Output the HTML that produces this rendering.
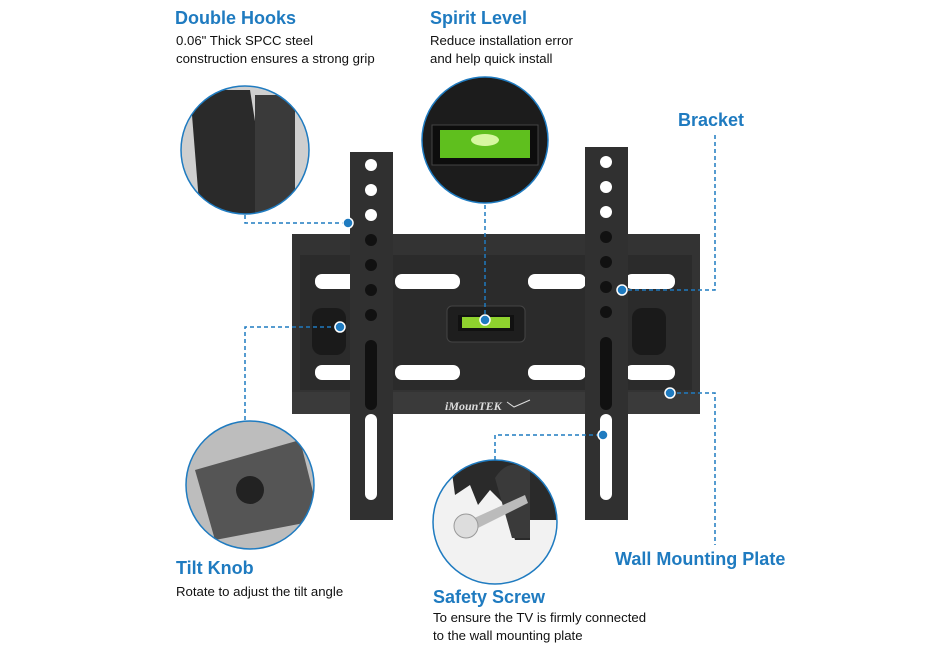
<!DOCTYPE html>
<html><head><meta charset="utf-8"><style>
body{margin:0;background:#fff;}
.c{position:absolute;font-family:"Liberation Sans",Arial,sans-serif;}
.h{color:#1f7bc0;font-weight:bold;font-size:18px;}
.s{color:#111;font-size:13.2px;line-height:18px;}
</style></head><body>
<div style="position:relative;width:950px;height:650px;overflow:hidden">
<svg width="950" height="650" style="position:absolute;left:0;top:0">
<defs>
<clipPath id="c1"><circle cx="245" cy="150" r="64"/></clipPath>
<clipPath id="c3"><circle cx="250" cy="485" r="64"/></clipPath>
<clipPath id="c4"><circle cx="495" cy="522" r="62"/></clipPath>
</defs>
<rect x="292" y="234" width="408" height="180" fill="#333"/>
<rect x="300" y="255" width="392" height="135" fill="#2b2b2b"/>
<rect x="292" y="392" width="408" height="22" fill="#3a3a3a"/>
<g fill="#fff">
<rect x="315" y="274" width="55" height="15" rx="7"/><rect x="395" y="274" width="65" height="15" rx="7"/>
<rect x="528" y="274" width="58" height="15" rx="7"/><rect x="625" y="274" width="50" height="15" rx="7"/>
<rect x="315" y="365" width="55" height="15" rx="7"/><rect x="395" y="365" width="65" height="15" rx="7"/>
<rect x="528" y="365" width="58" height="15" rx="7"/><rect x="625" y="365" width="50" height="15" rx="7"/>
</g>
<rect x="447" y="306" width="78" height="36" rx="5" fill="#1e1e1e" stroke="#444"/>
<rect x="458" y="315" width="56" height="16" fill="#111"/>
<rect x="462" y="317" width="48" height="11" fill="#8fd22e"/>
<text x="445" y="410" fill="#ddd" font-family="Liberation Serif" font-style="italic" font-weight="bold" font-size="12">iMounTEK</text>
<path d="M507 402 L514 407 L530 400" stroke="#ddd" fill="none" stroke-width="1"/>
<rect x="312" y="308" width="34" height="47" rx="10" fill="#1a1a1a"/>
<rect x="632" y="308" width="34" height="47" rx="10" fill="#1a1a1a"/>
<rect x="350" y="152" width="43" height="368" fill="#303030"/>
<rect x="585" y="147" width="43" height="373" fill="#303030"/>
<g fill="#fff">
<circle cx="371" cy="165" r="6"/><circle cx="371" cy="190" r="6"/><circle cx="371" cy="215" r="6"/>
<circle cx="606" cy="162" r="6"/><circle cx="606" cy="187" r="6"/><circle cx="606" cy="212" r="6"/>
<rect x="365" y="414" width="12" height="86" rx="6"/><rect x="600" y="414" width="12" height="86" rx="6"/>
</g>
<g fill="#111">
<circle cx="371" cy="240" r="6"/><circle cx="371" cy="265" r="6"/><circle cx="371" cy="290" r="6"/><circle cx="371" cy="315" r="6"/>
<rect x="365" y="340" width="12" height="70" rx="6"/>
<circle cx="606" cy="237" r="6"/><circle cx="606" cy="262" r="6"/><circle cx="606" cy="287" r="6"/><circle cx="606" cy="312" r="6"/>
<rect x="600" y="337" width="12" height="73" rx="6"/>
</g>
<g clip-path="url(#c1)"><rect x="180" y="85" width="130" height="130" fill="#cfcfcf"/><path d="M190 90 L250 90 L270 215 L200 215Z" fill="#2a2a2a"/><rect x="255" y="95" width="40" height="120" fill="#3a3a3a"/></g>
<circle cx="245" cy="150" r="64" fill="none" stroke="#1f7bc0" stroke-width="1.5"/>
<circle cx="485" cy="140" r="63" fill="#1c1c1c" stroke="#1f7bc0" stroke-width="1.5"/>
<rect x="432" y="125" width="106" height="40" fill="#0d0d0d" stroke="#444"/>
<rect x="440" y="130" width="90" height="28" fill="#5fbf1e"/>
<ellipse cx="485" cy="140" rx="14" ry="6" fill="#d6f7a0"/>
<g clip-path="url(#c3)"><rect x="186" y="420" width="130" height="130" fill="#bdbdbd"/><path d="M195 470 L300 440 L320 520 L215 540Z" fill="#555"/><circle cx="250" cy="490" r="14" fill="#222"/></g>
<circle cx="250" cy="485" r="64" fill="none" stroke="#1f7bc0" stroke-width="1.5"/>
<g clip-path="url(#c4)"><rect x="431" y="458" width="130" height="130" fill="#f2f2f2"/>
<path d="M450 458 L560 458 L560 520 L530 520 L530 540 L515 540 L505 505 L490 490 L478 505 L470 485 L455 495Z" fill="#2a2a2a"/>
<path d="M495 478 Q510 455 530 472 L530 538 L512 538Z" fill="#3a3a3a"/>
<path d="M470 520 L525 495 L528 503 L474 530Z" fill="#bbb"/>
<circle cx="466" cy="526" r="12" fill="#ddd" stroke="#999"/></g>
<circle cx="495" cy="522" r="62" fill="none" stroke="#1f7bc0" stroke-width="1.5"/>
<g stroke="#1f7bc0" stroke-width="1.5" stroke-dasharray="4,3" fill="none">
<path d="M245 215 V223 H348"/>
<path d="M485 205 V320"/>
<path d="M715 135 V290 H622"/>
<path d="M245 420 V327 H340"/>
<path d="M495 460 V435 H603"/>
<path d="M670 393 H715 V545"/>
</g>
<g fill="#1f7bc0" stroke="#fff" stroke-width="1.5">
<circle cx="348" cy="223" r="5"/><circle cx="485" cy="320" r="5"/><circle cx="622" cy="290" r="5"/>
<circle cx="340" cy="327" r="5"/><circle cx="603" cy="435" r="5"/><circle cx="670" cy="393" r="5"/>
</g>
</svg>
<div class="c h" style="left:175px;top:8px">Double Hooks</div>
<div class="c s" style="left:176px;top:32px">0.06" Thick SPCC steel<br>construction ensures a strong grip</div>
<div class="c h" style="left:430px;top:8px">Spirit Level</div>
<div class="c s" style="left:430px;top:32px">Reduce installation error<br>and help quick install</div>
<div class="c h" style="left:678px;top:110px">Bracket</div>
<div class="c h" style="left:176px;top:558px">Tilt Knob</div>
<div class="c s" style="left:176px;top:583px">Rotate to adjust the tilt angle</div>
<div class="c h" style="left:615px;top:549px">Wall Mounting Plate</div>
<div class="c h" style="left:433px;top:587px">Safety Screw</div>
<div class="c s" style="left:433px;top:609px">To ensure the TV is firmly connected<br>to the wall mounting plate</div>
</div>
</body></html>
